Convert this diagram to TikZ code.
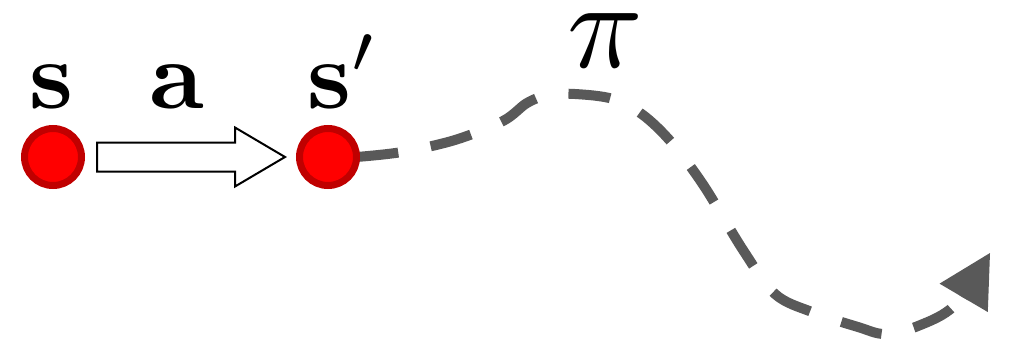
\documentclass[tikz,border=0pt]{standalone}
\usetikzlibrary{calc,arrows.meta}
\definecolor{dotred}{HTML}{FF0000}
\definecolor{dotborder}{HTML}{C00000}
\definecolor{pathgray}{HTML}{595959}
\pgfdeclarelayer{background}
\pgfsetlayers{background,main}
\tikzset{
  statedot/.style={circle, fill=dotred, draw=dotborder, line width=7pt, minimum size=57pt, inner sep=0pt, outer sep=0pt},
  biglabel/.style={anchor=base, inner sep=0pt, scale=9.7, transform shape},
  pilabel/.style={anchor=base, inner sep=0pt, scale=12.5, transform shape},
  hollowarrow/.style={draw=black, fill=white, line width=2pt, line join=miter},
  policy/.style={draw=pathgray, line width=10pt, dash pattern=on 42pt off 33pt, line cap=butt,
    -{Triangle[length=52pt,width=56pt,line width=0pt]}}
}
\begin{document}
\begin{tikzpicture}[x=1pt,y=-1pt]
\useasboundingbox (0,0) rectangle (1010,340);
\coordinate (tip) at (990,253);
\node[statedot] (s) at (53,157) {};
\node[statedot] (sp) at (328,157) {};
% policy path (behind the dots)
\begin{pgfonlayer}{background}
\draw[policy] plot[smooth, tension=0.55] coordinates {(sp.east) (402,152) (455,140) (503,121) (527,103) (548,95) (575,94) (613,99) (643,115) (672,143) (704,186) (743,250) (775,294) (812,312) (858,327) (885,334) (918,326) (955,305) (tip)};
\end{pgfonlayer}
% hollow arrow from s to s'
\draw[hollowarrow] ($(s.east)+(15.5,-14.5)$) -- ($(sp.west)+(-64.5,-14.5)$) -- ($(sp.west)+(-64.5,-29.5)$) -- ($(sp.west)+(-14.5,0)$) -- ($(sp.west)+(-64.5,29.5)$) -- ($(sp.west)+(-64.5,14.5)$) -- ($(s.east)+(15.5,14.5)$) -- cycle;
% labels
\node[biglabel] (ls) at (52,108) {$\mathbf{s}$};
\node[biglabel] (la) at (177,108) {$\mathbf{a}$};
\node[biglabel, anchor=base west] (lsp) at (306,108) {$\mathbf{s}'$};
\node[pilabel] (lpi) at (605,67) {$\pi$};
\end{tikzpicture}
\end{document}
